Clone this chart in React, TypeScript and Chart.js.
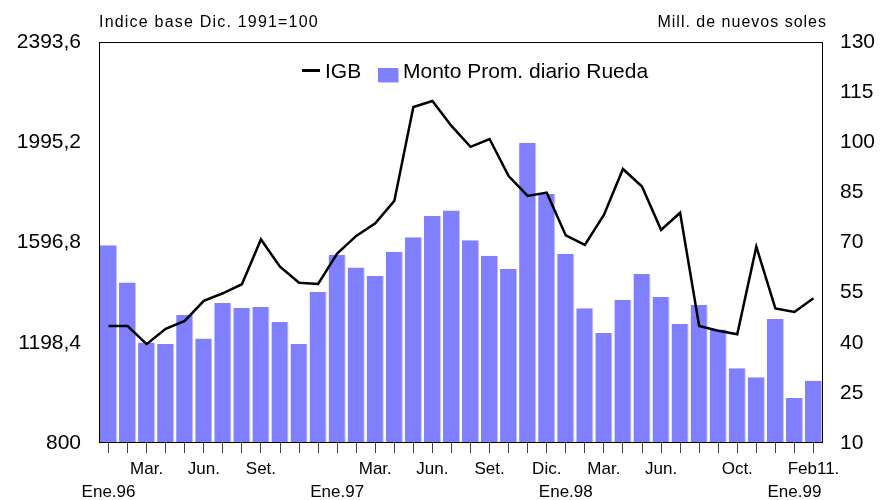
import { useEffect, useRef } from 'react';
import { Chart, registerables } from 'chart.js';

Chart.register(...registerables);

// Month categories Ene.96 .. Feb.99 (two label rows)
const topRowLabels = [
  '', '', 'Mar.', '', '', 'Jun.', '', '', 'Set.', '', '', '',
  '', '', 'Mar.', '', '', 'Jun.', '', '', 'Set.', '', '', 'Dic.',
  '', '', 'Mar.', '', '', 'Jun.', '', '', '', 'Oct.', '', '',
  '', 'Feb11.',
];
const bottomRowLabels = [
  'Ene.96', '', '', '', '', '', '', '', '', '', '', '',
  'Ene.97', '', '', '', '', '', '', '', '', '', '', '',
  'Ene.98', '', '', '', '', '', '', '', '', '', '', '',
  'Ene.99', '',
];

// IGB index (left axis)
const igbValues = [
  1265, 1265, 1193, 1254, 1285, 1365, 1395, 1431, 1609, 1501, 1437, 1432,
  1553, 1623, 1673, 1762, 2135, 2159, 2060, 1977, 2008, 1861, 1782, 1795,
  1625, 1587, 1706, 1889, 1819, 1647, 1715, 1265, 1246, 1232, 1580, 1335,
  1321, 1375,
];

// Monto Prom. diario Rueda (right axis, millions)
const montoValues = [
  69.2, 58.0, 40.1, 39.6, 48.3, 41.3, 51.9, 50.4, 50.7, 46.2, 39.6, 55.2,
  66.3, 62.5, 60.0, 67.2, 71.6, 77.9, 79.6, 70.7, 66.0, 62.1, 99.8, 84.5,
  66.6, 50.3, 42.9, 52.8, 60.6, 53.7, 45.6, 51.3, 44.0, 32.4, 29.7, 47.1,
  23.5, 28.6,
];

const leftTicks = [800, 1198.4, 1596.8, 1995.2, 2393.6];
const rightTicks = [10, 25, 40, 55, 70, 85, 100, 115, 130];

const seriesNames = ['IGB', 'Monto Prom. diario Rueda'];
const LINE_COLOR = '#000000';
const BAR_COLOR = '#8080ff';

const FONT = "'Liberation Sans', Arial, sans-serif";

const framePlugin = {
  id: 'frame',
  afterDatasetsDraw(chart: any) {
    const { ctx, chartArea } = chart;
    ctx.save();
    ctx.strokeStyle = '#000';
    ctx.lineWidth = 1;
    ctx.strokeRect(
      Math.round(chartArea.left) + 0.5,
      Math.round(chartArea.top) + 0.5,
      Math.round(chartArea.right - chartArea.left) - 1,
      Math.round(chartArea.bottom - chartArea.top) - 1
    );
    ctx.restore();
  },
};

export default function App() {
  const canvasRef = useRef<HTMLCanvasElement | null>(null);

  useEffect(() => {
    if (!canvasRef.current) return;
    const labels = topRowLabels.map((t, i) => [t, bottomRowLabels[i]]);
    const chart = new Chart(canvasRef.current, {
      type: 'bar',
      data: {
        labels,
        datasets: [
          {
            type: 'line',
            label: seriesNames[0],
            data: igbValues,
            yAxisID: 'y',
            borderColor: LINE_COLOR,
            backgroundColor: LINE_COLOR,
            borderWidth: 2.5,
            pointRadius: 0,
            tension: 0,
          } as any,
          {
            type: 'bar',
            label: seriesNames[1],
            data: montoValues,
            yAxisID: 'y1',
            backgroundColor: BAR_COLOR,
            borderColor: '#c4c4ff',
            borderWidth: { right: 1, top: 0, left: 0, bottom: 0 },
            borderSkipped: false,
            barPercentage: 0.9,
            categoryPercentage: 1.0,
          } as any,
        ],
      },
      options: {
        animation: false,
        responsive: false,
        maintainAspectRatio: false,
        layout: { padding: { top: 42, left: 0, right: 0, bottom: 0 } },
        plugins: {
          tooltip: { enabled: false },
          legend: { display: false },
        },
        scales: {
          x: {
            offset: true,
            grid: {
              display: true,
              offset: false,
              drawOnChartArea: false,
              drawTicks: true,
              tickLength: 10,
              color: '#444',
            },
            border: { display: false },
            ticks: {
              autoSkip: false,
              maxRotation: 0,
              minRotation: 0,
              padding: 5,
              color: '#000',
              font: { family: FONT, size: 17, lineHeight: 1.35 },
            },
            afterFit(s: any) {
              s.height = 57;
            },
          },
          y: {
            position: 'left',
            min: 800,
            max: 2393.6,
            grid: { display: false, drawTicks: false },
            border: { display: false },
            afterBuildTicks(s: any) {
              s.ticks = leftTicks.map((v) => ({ value: v }));
            },
            ticks: {
              padding: 18,
              color: '#000',
              font: { family: FONT, size: 21 },
              callback: (v: any) =>
                Number(v) === 800 ? '800' : Number(v).toFixed(1).replace('.', ','),
            },
            afterFit(s: any) {
              s.width = 99;
            },
          },
          y1: {
            position: 'right',
            min: 10,
            max: 130,
            grid: { display: false, drawTicks: false },
            border: { display: false },
            afterBuildTicks(s: any) {
              s.ticks = rightTicks.map((v) => ({ value: v }));
            },
            ticks: {
              padding: 17,
              color: '#000',
              font: { family: FONT, size: 21 },
            },
            afterFit(s: any) {
              s.width = 59;
            },
          },
        },
      },
      plugins: [framePlugin],
    });
    return () => chart.destroy();
  }, []);

  const textStyle: any = {
    position: 'absolute',
    top: 14,
    fontFamily: FONT,
    fontSize: 16,
    lineHeight: '16px',
    letterSpacing: '1.2px',
    color: '#000',
    whiteSpace: 'nowrap',
  };

  const legendText: any = {
    position: 'absolute',
    top: 60,
    fontFamily: FONT,
    fontSize: 21,
    lineHeight: '21px',
    color: '#000',
    whiteSpace: 'nowrap',
  };

  return (
    <div
      style={{
        position: 'fixed',
        left: 0,
        top: 0,
        width: 882,
        height: 500,
        background: '#fff',
      }}
    >
      <canvas ref={canvasRef} width={882} height={500} style={{ display: 'block' }} />
      <span style={{ ...textStyle, left: 99 }}>Indice base Dic. 1991=100</span>
      <span style={{ ...textStyle, right: 55, letterSpacing: '1px' }}>Mill. de nuevos soles</span>
      <span
        style={{
          position: 'absolute',
          left: 302,
          top: 69,
          width: 18,
          height: 3,
          background: LINE_COLOR,
        }}
      />
      <span style={{ ...legendText, left: 325 }}>{seriesNames[0]}</span>
      <span
        style={{
          position: 'absolute',
          left: 378,
          top: 68,
          width: 20,
          height: 14,
          background: BAR_COLOR,
          boxShadow: '1px 1px 0 #c4c4ff',
        }}
      />
      <span style={{ ...legendText, left: 403 }}>{seriesNames[1]}</span>
    </div>
  );
}
